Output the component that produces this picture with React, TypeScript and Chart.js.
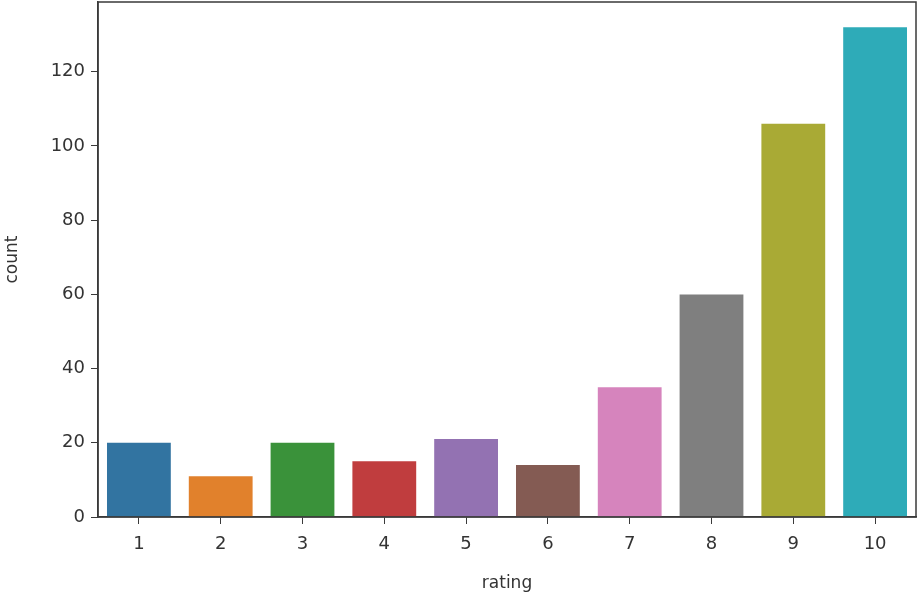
import React, { useEffect, useRef } from "react";
import { Chart, registerables } from "chart.js";

Chart.register(...registerables);

const ratings = ["1", "2", "3", "4", "5", "6", "7", "8", "9", "10"];
const counts = [20, 11, 20, 15, 21, 14, 35, 60, 106, 132];
const barColors = [
  "#3274a1", "#e1812c", "#3a923a", "#c03d3e", "#9372b2",
  "#845b53", "#d684bd", "#7f7f7f", "#a9aa35", "#2eabb8",
];
const yTicks = [0, 20, 40, 60, 80, 100, 120];
const yMax = 138.8;

const frameColor = "#3a3a3a";
const textColor = "#333333";
const fontFamily = "'DejaVu Sans', sans-serif";

const framePlugin = {
  id: "frame",
  afterDraw(chart: any) {
    const { ctx, chartArea } = chart;
    ctx.save();
    ctx.strokeStyle = frameColor;
    ctx.lineWidth = 1.5;
    ctx.strokeRect(chartArea.left, chartArea.top, chartArea.right - chartArea.left, chartArea.bottom - chartArea.top);
    ctx.restore();
  },
};

export default function App() {
  const ref = useRef<HTMLCanvasElement>(null);
  useEffect(() => {
    document.body.style.margin = "0";
    const chart = new Chart(ref.current!, {
      type: "bar",
      data: {
        labels: ratings,
        datasets: [
          {
            data: counts,
            backgroundColor: barColors,
            borderWidth: 0,
            barPercentage: 0.78,
            categoryPercentage: 1,
          },
        ],
      },
      options: {
        animation: false,
        responsive: false,
        maintainAspectRatio: false,
        layout: { padding: { top: 2, right: 4, left: 0, bottom: 0 } },
        plugins: { legend: { display: false }, tooltip: { enabled: false } },
        scales: {
          x: {
            grid: { display: true, drawOnChartArea: false, drawTicks: true, tickLength: 7, color: frameColor, offset: false },
            border: { display: true, color: frameColor, width: 1.5 },
            ticks: { color: textColor, font: { family: fontFamily, size: 18 }, padding: 10 },
            title: { display: true, text: "rating", color: textColor, font: { family: fontFamily, size: 17 }, padding: { top: 4, bottom: 0 } },
            afterFit: (s: any) => { s.height = 77; s.paddingLeft = 0; s.paddingRight = 0; },
          },
          y: {
            min: 0,
            max: yMax,
            grid: { display: true, drawOnChartArea: false, drawTicks: true, tickLength: 7, color: frameColor },
            border: { display: true, color: frameColor, width: 1.5 },
            ticks: { color: textColor, font: { family: fontFamily, size: 18 }, padding: 6, stepSize: 20 },
            afterBuildTicks: (s: any) => { s.ticks = yTicks.map((v) => ({ value: v })); },
            title: { display: true, text: "count", color: textColor, font: { family: fontFamily, size: 17 }, padding: { top: 2, bottom: 0 } },
            afterFit: (s: any) => { s.width = 98; s.paddingTop = 0; s.paddingBottom = 0; },
          },
        },
      },
      plugins: [framePlugin],
    });
    return () => chart.destroy();
  }, []);
  return (
    <div style={{ width: 920, height: 594 }}>
      <canvas ref={ref} width={920} height={594} style={{ display: "block" }} />
    </div>
  );
}
